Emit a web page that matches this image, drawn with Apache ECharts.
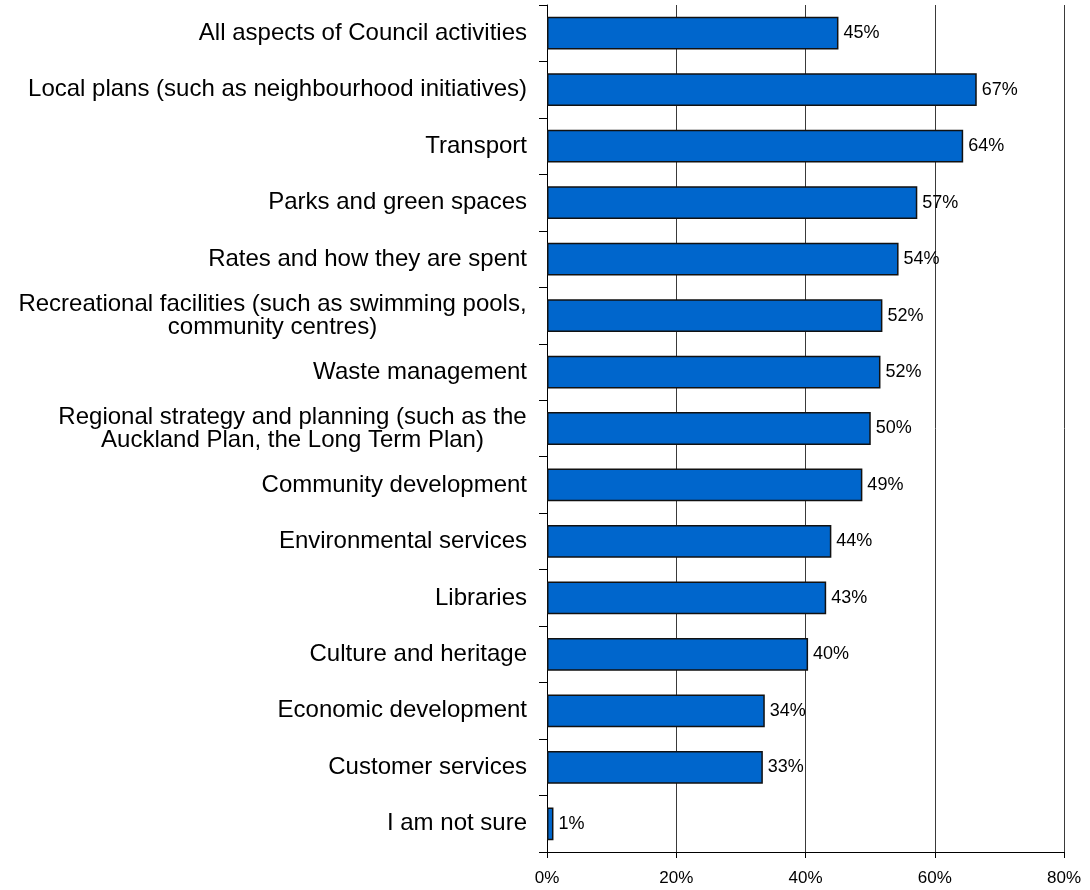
<!DOCTYPE html>
<html>
<head>
<meta charset="utf-8">
<title>Council activities</title>
<script src="https://cdn.jsdelivr.net/npm/echarts@6/dist/echarts.min.js"></script>
<style>
  html, body { margin: 0; padding: 0; background: #fff; }
  #chart { width: 1090px; height: 890px; }
</style>
</head>
<body>
<div id="chart"></div>
<script>
// Categories top to bottom, as in the picture.
const categories = [
  "All aspects of Council activities",
  "Local plans (such as neighbourhood initiatives)",
  "Transport",
  "Parks and green spaces",
  "Rates and how they are spent",
  "Recreational facilities (such as swimming pools,\ncommunity centres)",
  "Waste management",
  "Regional strategy and planning (such as the\nAuckland Plan, the Long Term Plan)",
  "Community development",
  "Environmental services",
  "Libraries",
  "Culture and heritage",
  "Economic development",
  "Customer services",
  "I am not sure",
];

// Share of respondents (%).
const shares = [45.1, 66.5, 64.4, 57.3, 54.4, 51.9, 51.6, 50.1, 48.8, 44.0, 43.2, 40.4, 33.7, 33.4, 1.0];

const xTicks = [0, 20, 40, 60, 80];

const FONT = "'Liberation Sans', Arial, sans-serif";
const LABEL_SIZE = 24;
const LABEL_LINE = 23;

// Two-line labels are centred line against line, like the original, so each
// one gets a rich style as wide as its longest line.
const measureCtx = document.createElement("canvas").getContext("2d");
measureCtx.font = `${LABEL_SIZE}px ${FONT}`;
const rich = {};
categories.forEach((name, i) => {
  if (!name.includes("\n")) return;
  const w = Math.max(...name.split("\n").map((l) => measureCtx.measureText(l).width));
  rich["m" + i] = {
    width: Math.ceil(w),
    align: "center",
    fontSize: LABEL_SIZE,
    lineHeight: LABEL_LINE,
    fontFamily: FONT,
    color: "#000",
  };
});

function categoryLabel(value, index) {
  if (!value.includes("\n")) return value;
  return value.split("\n").map((l) => `{m${index}|${l}}`).join("\n");
}

const chart = echarts.init(document.getElementById("chart"), null, { renderer: "canvas" });

chart.setOption({
  animation: false,
  backgroundColor: "#fff",
  textStyle: { fontFamily: FONT },
  grid: { left: 547, right: 26, top: 5, bottom: 38, containLabel: false },
  xAxis: {
    type: "value",
    min: xTicks[0],
    max: xTicks[xTicks.length - 1],
    interval: 20,
    axisLine: { show: true, lineStyle: { color: "#000", width: 1 } },
    axisTick: { show: true, length: 6, lineStyle: { color: "#000" } },
    axisLabel: {
      color: "#000",
      fontSize: 17,
      fontFamily: FONT,
      margin: 18,
      formatter: (v) => v + "%",
    },
    splitLine: { show: true, lineStyle: { color: "#3a3a3a", width: 1 } },
  },
  yAxis: {
    type: "category",
    data: categories,
    inverse: true,
    axisLine: { show: true, lineStyle: { color: "#000", width: 1 } },
    axisTick: { show: true, length: 8, lineStyle: { color: "#000" } },
    axisLabel: {
      color: "#000",
      fontSize: LABEL_SIZE,
      fontFamily: FONT,
      lineHeight: LABEL_LINE,
      align: "right",
      margin: 20,
      interval: 0,
      formatter: categoryLabel,
      rich: rich,
    },
    splitLine: { show: false },
  },
  series: [
    {
      type: "bar",
      data: shares,
      barCategoryGap: "42%",
      itemStyle: { color: "#0066CC", borderColor: "#111", borderWidth: 1.5 },
      label: {
        show: true,
        position: "right",
        distance: 5,
        color: "#000",
        fontSize: 18,
        fontFamily: FONT,
        formatter: (p) => Math.round(p.value) + "%",
      },
    },
  ],
});
</script>
</body>
</html>
